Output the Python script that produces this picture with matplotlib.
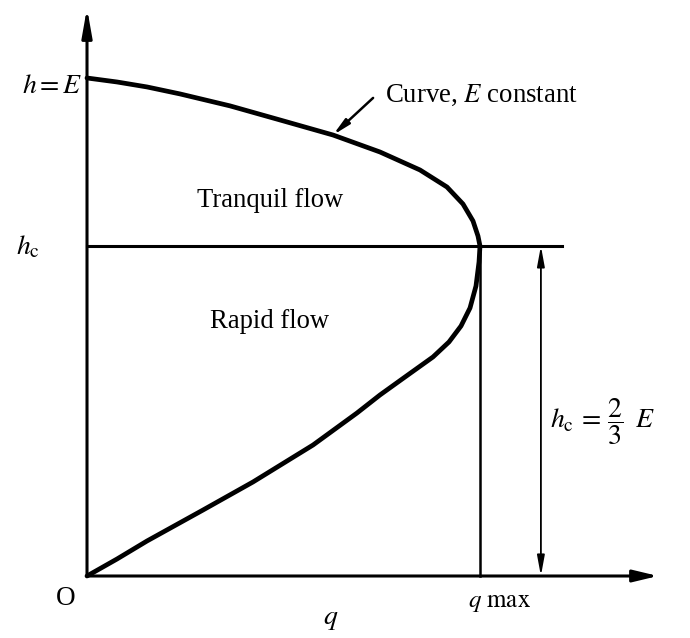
import matplotlib.pyplot as plt

# ---------------- Datos ----------------
# Curva de energía específica constante (q normalizado a q_max, h normalizado a E)
Q_CURVA = [0.0, 0.0763, 0.1527, 0.2366, 0.3639, 0.4911, 0.626, 0.7455, 0.8473,
           0.916, 0.9567, 0.9822, 0.9949, 1.0, 0.9975, 0.9898, 0.9746, 0.9517,
           0.9211, 0.8804, 0.8092, 0.7455, 0.687, 0.5751, 0.4224, 0.2952,
           0.1527, 0.0763, 0.0]
H_CURVA = [1.0, 0.992, 0.982, 0.968, 0.944, 0.9157, 0.8855, 0.8514, 0.8153,
           0.7811, 0.747, 0.7129, 0.6827, 0.6627, 0.6305, 0.5823, 0.5382, 0.502,
           0.4699, 0.4398, 0.3996, 0.3635, 0.3273, 0.263, 0.1888, 0.1325,
           0.0703, 0.0341, 0.0]

E_NIVEL = 1.0
HC_NIVEL = 0.6627
Q_MAX = 1.0

# ---------------- Figura ----------------
plt.rcParams['mathtext.fontset'] = 'stix'
plt.rcParams['font.family'] = ['Liberation Serif', 'DejaVu Serif']

fig = plt.figure(figsize=(6.9, 6.38), dpi=100)
ax = fig.add_axes([0, 0, 1, 1])
ax.set_xlim(-0.2214, 1.5344)
ax.set_ylim(-0.1245, 1.1566)
ax.axis('off')

# ejes con flecha
ax.annotate('', xy=(1.453, 0), xytext=(0, 0),
            arrowprops=dict(arrowstyle='-|>,head_length=1.5,head_width=0.36',
                            color='black', lw=2.2, shrinkA=0, shrinkB=0))
ax.annotate('', xy=(0, 1.1406), xytext=(0, 0),
            arrowprops=dict(arrowstyle='-|>,head_length=1.7,head_width=0.3',
                            color='black', lw=2.2, shrinkA=0, shrinkB=0))

# curva
ax.plot(Q_CURVA, H_CURVA, color='black', lw=3.4, solid_capstyle='round',
        solid_joinstyle='round')

# línea de profundidad crítica y q_max
ax.plot([0, 1.2087], [HC_NIVEL, HC_NIVEL], color='black', lw=2.2)
ax.plot([Q_MAX, Q_MAX], [0, HC_NIVEL], color='black', lw=1.8)

# cota h_c
ax.annotate('', xy=(1.155, HC_NIVEL), xytext=(1.155, 0),
            arrowprops=dict(arrowstyle='<|-|>,head_length=1.2,head_width=0.22',
                            color='black', lw=1.3, shrinkA=0, shrinkB=0))

# flecha "Curve, E constant"
ax.annotate('', xy=(0.626, 0.8855), xytext=(0.728, 0.960),
            arrowprops=dict(arrowstyle='-|>,head_length=1.0,head_width=0.2',
                            color='black', lw=1.8, shrinkA=0, shrinkB=0))

# ---------------- Textos ----------------
ax.text(-0.0127, 0.9699, r'$h\,\!=\,\!E$', fontsize=20, ha='right', va='baseline')
ax.text(-0.1196, 0.6466, r'$h_{\rm c}$', fontsize=20, ha='right', va='baseline')
ax.text(0.758, 0.952, r'Curve, $E$ constant', fontsize=19.3, ha='left', va='baseline')
ax.text(0.4656, 0.741, 'Tranquil flow', fontsize=19.2, ha='center', va='baseline')
ax.text(0.4656, 0.498, 'Rapid flow', fontsize=19.2, ha='center', va='baseline')
ax.text(-0.0534, -0.0582, 'O', fontsize=19.5, ha='center', va='baseline')
ax.text(0.621, -0.0964, r'$q$', fontsize=20, ha='center', va='baseline')
ax.text(0.9695, -0.0622, r'$q\ \mathrm{max}$', fontsize=18, ha='left', va='baseline')
ax.text(1.178, 0.309, r'$h_{\rm c}\,=\,\dfrac{2}{3}\;\;E$', fontsize=20, ha='left', va='center')

fig.savefig('out.png', dpi=100)
